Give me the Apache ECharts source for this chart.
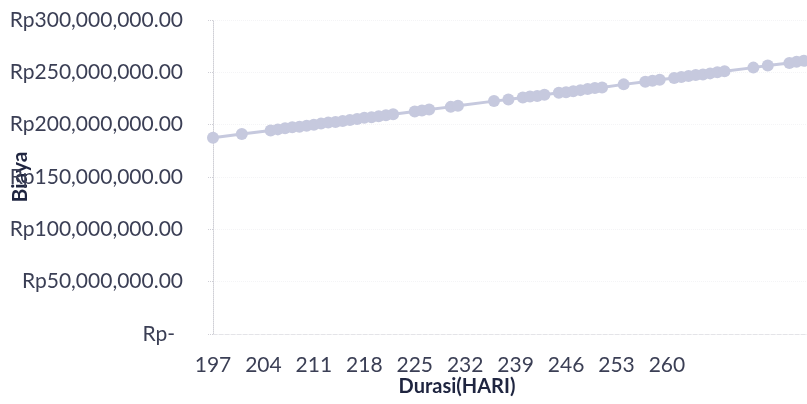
<!DOCTYPE html>
<html>
<head>
<meta charset="utf-8">
<script src="https://cdn.jsdelivr.net/npm/echarts@6/dist/echarts.min.js"></script>
<style>
html,body{margin:0;padding:0;background:#fff;}
#chart{width:807px;height:404px;}
</style>
</head>
<body>
<div id="chart"></div>
<script>
// Durations (days) of the plotted points
var durations = [197, 201, 205, 206, 207, 208, 209, 210, 211, 212, 213, 214, 215, 216, 217, 218, 219, 220, 221, 222,
  225, 226, 227, 230, 231, 236, 238, 240, 241, 242, 243, 245, 246, 247, 248, 249, 250, 251, 254,
  257, 258, 259, 261, 262, 263, 264, 265, 266, 267, 268, 272, 274, 277, 278, 279];
// Costs (Rp) of the plotted points
var costs = [187500000, 191000000, 194500000, 195500000, 196500000, 197500000, 198000000, 199000000, 200000000, 201000000,
  202000000, 202500000, 203500000, 204500000, 205500000, 206500000, 207000000, 208000000, 209000000, 210000000,
  212500000, 213500000, 214500000, 217000000, 218000000, 222500000, 224000000, 226000000, 227000000, 227500000,
  228500000, 230500000, 231000000, 232000000, 233000000, 234000000, 235000000, 235500000, 238500000,
  241000000, 242000000, 243000000, 244500000, 245500000, 246500000, 247500000, 248000000, 249000000, 250000000,
  251000000, 254500000, 256500000, 259000000, 260000000, 261000000];
// Tick labels shown on the x axis
var xTickLabels = [197, 204, 211, 218, 225, 232, 239, 246, 253, 260];
// Y axis ticks
var yTicks = [0, 50000000, 100000000, 150000000, 200000000, 250000000, 300000000];

var seriesData = durations.map(function (d, i) { return [d, costs[i]]; });

function fmtRp(v) {
  if (v === 0) return '{z|Rp-}';
  var s = String(Math.round(v)).replace(/\B(?=(\d{3})+(?!\d))/g, ',');
  return 'Rp' + s + '.00';
}

var chart = echarts.init(document.getElementById('chart'), null, { renderer: 'canvas' });
var FONT = 'Lato, "Open Sans", sans-serif';
chart.setOption({
  animation: false,
  backgroundColor: '#ffffff',
  grid: { left: 213, top: 20, width: 598, height: 314, containLabel: false, outerBoundsMode: 'none' },
  xAxis: {
    type: 'value',
    min: 197,
    max: 280,
    interval: 7,
    name: 'Durasi(HARI)',
    nameLocation: 'middle',
    nameGap: 43,
    nameMoveOverlap: false,
    nameTextStyle: { fontFamily: FONT, fontSize: 20, fontWeight: 'bold', color: '#1f2540', padding: [0, 110, 0, 0] },
    axisLine: { show: true, lineStyle: { color: '#e4e4e8', type: 'dashed', width: 1 } },
    axisTick: { show: false },
    splitLine: { show: false },
    axisLabel: {
      margin: 21,
      fontFamily: FONT, fontSize: 21, color: '#3b3f55',
      formatter: function (v) { return xTickLabels.indexOf(v) >= 0 ? String(v) : ''; }
    }
  },
  yAxis: {
    type: 'value',
    min: yTicks[0],
    max: yTicks[yTicks.length - 1],
    interval: 50000000,
    name: 'Biaya',
    nameLocation: 'middle',
    nameGap: 182,
    nameRotate: 90,
    nameMoveOverlap: false,
    nameTextStyle: { fontFamily: FONT, fontSize: 21, fontWeight: 'bold', color: '#1f2540' },
    axisLine: { show: true, lineStyle: { color: '#cfcfd6', type: 'dotted', width: 1 } },
    axisTick: { show: true, length: 5, lineStyle: { color: '#cfcfd6', type: 'dotted' } },
    splitLine: { show: true, lineStyle: { color: '#f4f4f6', type: 'dotted' } },
    axisLabel: {
      margin: 30,
      fontFamily: FONT, fontSize: 21, color: '#3b3f55',
      formatter: fmtRp,
      rich: { z: { fontFamily: FONT, fontSize: 21, color: '#3b3f55', padding: [0, 8, 0, 0] } }
    }
  },
  series: [{
    type: 'line',
    data: seriesData,
    symbol: 'circle',
    symbolSize: 12,
    lineStyle: { color: '#c6c9de', width: 3 },
    itemStyle: { color: '#c6c9de' },
    z: 3
  }]
});
</script>
</body>
</html>
